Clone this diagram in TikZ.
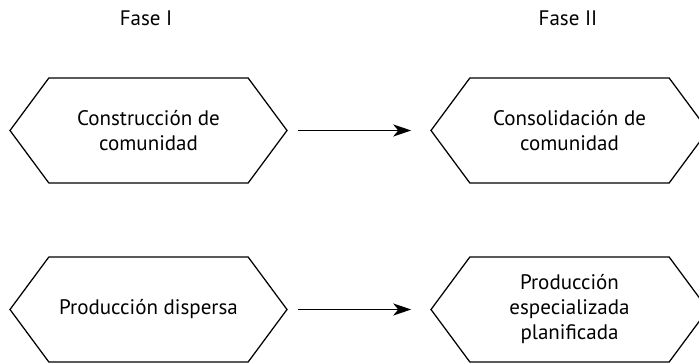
\documentclass[tikz,border=0pt]{standalone}
\usepackage{fontspec}
\setmainfont{PT Sans}
\usepackage{tikz}
\usetikzlibrary{arrows.meta, shapes.symbols}

\tikzset{
  etapa/.style={draw, line width=1.25pt, shape=signal, signal to=west and east,
    signal pointer angle=107, minimum width=277pt, minimum height=105pt,
    inner sep=0pt, align=center, font=\fontsize{21}{25}\selectfont},
  fase/.style={font=\fontsize{21}{25}\selectfont},
  paso/.style={-{Stealth[length=18pt, width=12pt, inset=5pt]}, line width=1.25pt,
    shorten <=10pt, shorten >=19pt}
}

\begin{document}
\begin{tikzpicture}[x=1pt, y=-1pt]
                \useasboundingbox (0,0) rectangle (699,363);

                % Titulos de las fases
                \node[fase] (f1) at (146,18) {Fase I};
                \node[fase] (f2) at (568,18) {Fase II};

                % Comunidad
                \node[etapa] (c1) at (148.5,130.5) {Construcción de\\comunidad};
                \node[etapa] (c2) at (569.5,130.5) {Consolidación de\\comunidad};

                % Produccion
                \node[etapa] (p1) at (148.5,309.5) {Producción dispersa};
                \node[etapa] (p2) at (569.5,309.5) {Producción\\especializada\\planificada};

                % Flechas
                \draw[paso] (c1.east) -- (c2.west);
                \draw[paso] (p1.east) -- (p2.west);
            \end{tikzpicture}
\end{document}
